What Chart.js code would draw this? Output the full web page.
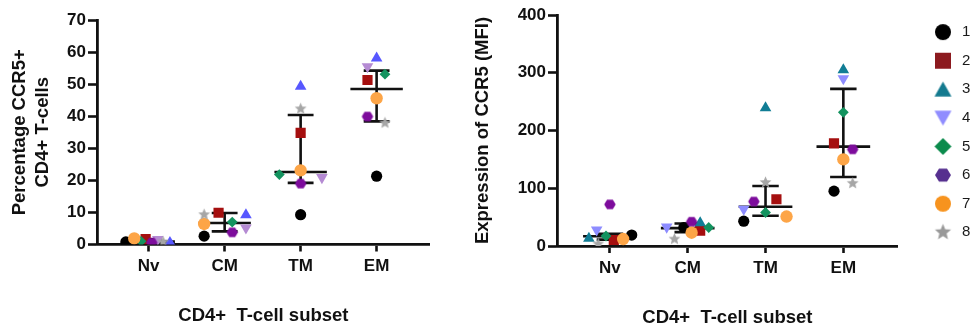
<!DOCTYPE html>
<html>
<head>
<meta charset="utf-8">
<script src="https://cdn.jsdelivr.net/npm/chart.js@4.4.0/dist/chart.umd.min.js"></script>
<style>
  html, body { margin: 0; padding: 0; background: #fff; }
  body { width: 972px; height: 329px; position: relative; overflow: hidden; }
  canvas { position: absolute; top: 0; }
  #pctChart { left: 0; }
  #mfiChart { left: 440px; }
  #legendChart { left: 880px; }
</style>
</head>
<body>
<canvas id="pctChart" width="437" height="329"></canvas>
<canvas id="mfiChart" width="465" height="329"></canvas>
<canvas id="legendChart" width="92" height="329"></canvas>
<script>
const subsets = ['Nv', 'CM', 'TM', 'EM'];
const donors = ['1', '2', '3', '4', '5', '6', '7', '8'];

// percentage CCR5+ of CD4+ T-cells, per donor: Nv, CM, TM, EM
const pct1 = [0.8, 2.6, 9.3, 21.3];
const pct2 = [1.7, 9.9, 34.8, 51.3];
const pct3 = [0.6, 9.2, 49.3, 58.1];
const pct4 = [1.6, 5.2, 20.9, 55.5];
const pct5 = [1.0, 7.0, 21.8, 53.1];
const pct6 = [0.6, 3.8, 19.0, 39.9];
const pct7 = [1.9, 6.4, 23.1, 45.6];
const pct8 = [0.8, 9.3, 42.3, 37.9];
const pctMedian = [0.9, 6.7, 22.6, 48.5];
const pctQ1 = [0.7, 4.1, 19.2, 38.4];
const pctQ3 = [1.6, 9.8, 40.4, 54.2];

// CCR5 MFI, per donor: Nv, CM, TM, EM
const mfi1 = [19, 32, 43, 95];
const mfi2 = [10.4, 26.5, 81, 177.8];
const mfi3 = [13, 40, 239, 305];
const mfi4 = [28, 33, 64, 290];
const mfi5 = [17.3, 32, 58, 231.5];
const mfi6 = [72, 42, 77, 167.4];
const mfi7 = [12, 23, 51, 150];
const mfi8 = [3.5, 12, 110, 108.5];
const mfiMedian = [17, 31, 68, 172];
const mfiQ1 = [11, 24, 52.5, 119.5];
const mfiQ3 = [21, 39, 104, 272];

// sideways scatter of each donor's dot inside a subset column
const pctSpread = [
  [-0.30, -0.27, 0, 0], [-0.04, -0.08, 0, -0.12], [0.28, 0.28, 0, 0], [0.12, 0.28, 0.28, -0.12],
  [-0.10, 0.10, -0.28, 0.11], [0.04, 0.10, 0, -0.12], [-0.19, -0.27, 0, 0], [0.19, -0.27, 0, 0.11]
];
const mfiSpread = [
  [0.28, -0.05, -0.28, -0.12], [0.05, 0.16, 0.14, -0.12], [-0.27, 0.16, 0, 0], [-0.17, -0.27, -0.28, 0],
  [-0.05, 0.27, 0, 0], [0, 0.05, -0.15, 0.12], [0.17, 0.05, 0.27, 0], [-0.15, -0.17, 0, 0.12]
];

const ink = '#111';
const font = "'Liberation Sans', Arial, sans-serif";
Chart.defaults.font.family = font;

const shapes = ['circle', 'rect', 'triangle', 'triangleDown', 'rectRot', 'hexagon', 'circle', 'star'];
const radii = [5.6, 7.2, 6.7, 6.7, 5.4, 6, 6.2, 6];
const pctColors = ['#000000', '#a50f0f', '#5757ff', '#b58bd3', '#13935f', '#7d0c9c', '#fda547', '#a6a6a6'];
const mfiColors = ['#000000', '#a50f0f', '#107d95', '#8d8cff', '#13935f', '#7d0c9c', '#fda547', '#a6a6a6'];
const legendColors = ['#000000', '#8c1a1f', '#147a8f', '#908dff', '#0b8b4c', '#56308f', '#f7931e', '#999999'];
const legendSizes = [16, 16, 17, 17, 17, 16, 16, 17];

// small bitmap markers for shapes chart.js doesn't have (and for the legend)
function marker(shape, color, size) {
  const c = document.createElement('canvas');
  c.width = c.height = Math.ceil(size) + 2;
  const ctx = c.getContext('2d');
  const m = c.width / 2, r = size / 2;
  ctx.fillStyle = color;
  ctx.beginPath();
  if (shape === 'circle') {
    ctx.arc(m, m, r, 0, Math.PI * 2);
  } else if (shape === 'rect') {
    ctx.rect(m - r, m - r, size, size);
  } else if (shape === 'triangle') {
    ctx.moveTo(m, m - r * 0.9); ctx.lineTo(m + r, m + r * 0.85); ctx.lineTo(m - r, m + r * 0.85);
  } else if (shape === 'triangleDown') {
    ctx.moveTo(m, m + r * 0.9); ctx.lineTo(m + r, m - r * 0.85); ctx.lineTo(m - r, m - r * 0.85);
  } else if (shape === 'rectRot') {
    ctx.moveTo(m, m - r); ctx.lineTo(m + r, m); ctx.lineTo(m, m + r); ctx.lineTo(m - r, m);
  } else if (shape === 'hexagon') {
    for (let k = 0; k < 6; k++) {
      const a = k * Math.PI / 3;
      ctx.lineTo(m + r * Math.cos(a), m + r * 0.95 * Math.sin(a));
    }
  } else if (shape === 'star') {
    for (let k = 0; k < 10; k++) {
      const a = -Math.PI / 2 + k * Math.PI / 5;
      const rr = k % 2 ? r * 0.45 : r;
      ctx.lineTo(m + rr * Math.cos(a), m + rr * Math.sin(a));
    }
  }
  ctx.closePath();
  ctx.fill();
  return c;
}

function pointLook(i, color) {
  const s = shapes[i];
  if (s === 'hexagon') return { pointStyle: marker('hexagon', color, 11.5), pointRotation: 0 };
  if (s === 'star') return { pointStyle: marker('star', color, 12.5), pointRotation: 0 };
  if (s === 'triangleDown') return { pointStyle: 'triangle', pointRotation: 180 };
  return { pointStyle: s, pointRotation: 0 };
}

function donorSets(values, spread, colors) {
  return donors.map((d, i) => Object.assign({
    label: d,
    data: values[i].map((v, k) => ({ x: k + 1 + spread[i][k], y: v })),
    pointRadius: radii[i],
    pointHoverRadius: radii[i],
    backgroundColor: colors[i],
    borderColor: colors[i],
    pointBorderWidth: 0,
    showLine: false,
    order: 10 - i
  }, pointLook(i, colors[i])));
}

// median line with interquartile whiskers
function summarySet(med, q1, q3) {
  const pts = [];
  const gap = { x: null, y: null };
  med.forEach((m, k) => {
    const c = k + 1;
    pts.push({ x: c - 0.345, y: m }, { x: c + 0.345, y: m }, gap,
             { x: c - 0.17, y: q3[k] }, { x: c + 0.17, y: q3[k] }, gap,
             { x: c - 0.17, y: q1[k] }, { x: c + 0.17, y: q1[k] }, gap,
             { x: c, y: q1[k] }, { x: c, y: q3[k] }, gap);
  });
  return {
    label: 'median',
    data: pts,
    showLine: true,
    spanGaps: false,
    borderColor: ink,
    borderWidth: 2.6,
    pointRadius: 0,
    pointHoverRadius: 0,
    order: 20
  };
}

function axes(opt) {
  return {
    x: {
      type: 'linear', min: 0.32, max: 4.7,
      afterBuildTicks: s => { s.ticks = subsets.map((_, i) => ({ value: i + 1 })); },
      afterFit: s => { s.height = opt.xHeight; },
      ticks: { callback: v => subsets[v - 1], autoSkip: false, maxRotation: 0, padding: 5,
               color: ink, font: { size: 17, weight: 'bold' } },
      grid: { drawOnChartArea: false, tickLength: 7, tickWidth: 2.6, tickColor: ink },
      border: { color: ink, width: 2.8 },
      title: { display: true, text: 'CD4+  T-cell subset', color: ink,
               font: { size: 18.5, weight: 'bold', lineHeight: 1.2 },
               padding: { top: 0, bottom: opt.xTitleBottom } }
    },
    y: {
      min: 0, max: opt.yMax,
      afterFit: s => { s.width = opt.yWidth; },
      ticks: { stepSize: opt.yStep, padding: 2, color: ink, font: { size: 17, weight: 'bold' } },
      grid: { drawOnChartArea: false, tickLength: 9, tickWidth: 2.6, tickColor: ink },
      border: { color: ink, width: 2.8 },
      title: { display: true, text: opt.yTitle, color: ink,
               font: { size: 18.5, weight: 'bold', lineHeight: 1.25 },
               padding: { top: opt.yTitleTop, bottom: 0 } }
    }
  };
}

const quiet = { legend: { display: false }, tooltip: { enabled: false } };

new Chart(document.getElementById('pctChart'), {
  type: 'scatter',
  data: { datasets: donorSets([pct1, pct2, pct3, pct4, pct5, pct6, pct7, pct8], pctSpread, pctColors)
    .concat([summarySet(pctMedian, pctQ1, pctQ3)]) },
  options: {
    responsive: false, animation: false,
    layout: { padding: { top: 20, left: 0, right: 0, bottom: 0 } },
    scales: axes({ yMax: 70, yStep: 10, yWidth: 97, xHeight: 84.5, xTitleBottom: 2,
                   yTitle: ['Percentage CCR5+', 'CD4+ T-cells'], yTitleTop: 8.5 }),
    plugins: quiet
  }
});

new Chart(document.getElementById('mfiChart'), {
  type: 'scatter',
  data: { datasets: donorSets([mfi1, mfi2, mfi3, mfi4, mfi5, mfi6, mfi7, mfi8], mfiSpread, mfiColors)
    .concat([summarySet(mfiMedian, mfiQ1, mfiQ3)]) },
  options: {
    responsive: false, animation: false,
    layout: { padding: { top: 15, left: 0, right: 0, bottom: 0 } },
    scales: axes({ yMax: 400, yStep: 100, yWidth: 117, xHeight: 83, xTitleBottom: 0,
                   yTitle: 'Expression of CCR5 (MFI)', yTitleTop: 31.5 }),
    plugins: quiet
  }
});

new Chart(document.getElementById('legendChart'), {
  type: 'scatter',
  data: { datasets: donors.map((d, i) => ({ label: d, data: [], backgroundColor: legendColors[i] })) },
  options: {
    responsive: false, animation: false,
    layout: { padding: { left: 37.9, top: 0, right: 0, bottom: 0 } },
    scales: { x: { display: false }, y: { display: false } },
    plugins: {
      tooltip: { enabled: false },
      legend: {
        position: 'chartArea', align: 'start',
        // empty title only pushes the rows down
        title: { display: true, text: ' ', font: { size: 10, lineHeight: 1.1 }, padding: 0 },
        labels: {
          usePointStyle: true, pointStyleWidth: 23, padding: 13.6, textAlign: 'left',
          color: '#1a1a1a', font: { size: 15 },
          generateLabels: chart => chart.data.datasets.map((ds, i) => ({
            text: ds.label,
            pointStyle: marker(shapes[i], legendColors[i], legendSizes[i]),
            fillStyle: legendColors[i],
            strokeStyle: legendColors[i],
            fontColor: '#1a1a1a',
            textAlign: 'left',
            lineWidth: 0,
            hidden: false,
            datasetIndex: i
          }))
        }
      }
    }
  }
});
</script>
</body>
</html>
